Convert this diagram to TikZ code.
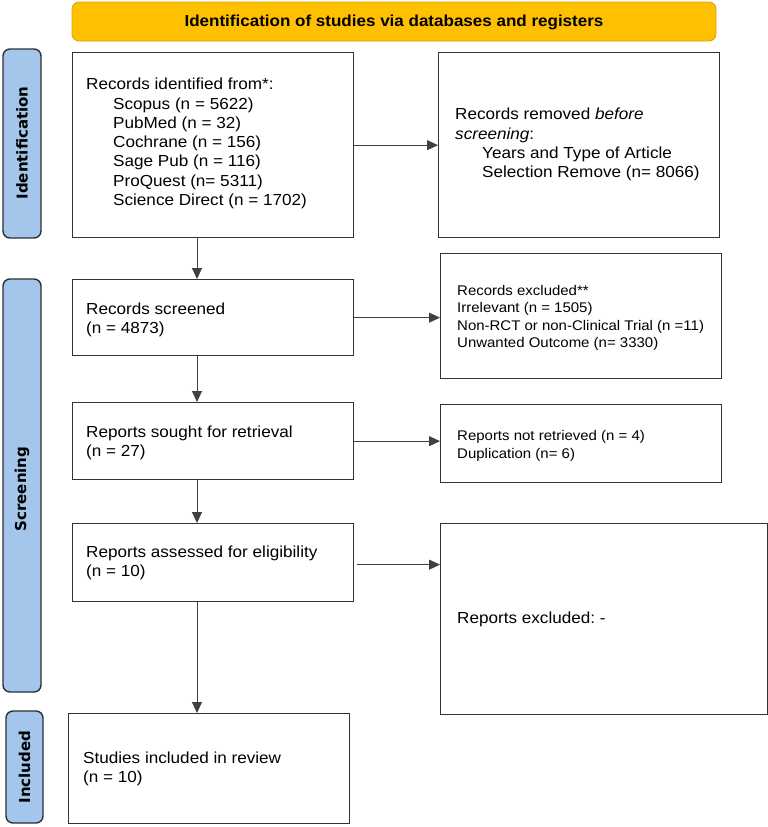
\documentclass[tikz,border=0pt]{standalone}
\usepackage{fontspec}
\setmainfont{Liberation Sans}[FakeStretch=1.07]
\newfontfamily\sidefont{DejaVu Sans}
\usetikzlibrary{arrows.meta}
\definecolor{bannerfill}{HTML}{FFC000}
\definecolor{bannerdraw}{HTML}{D9A400}
\definecolor{sidefill}{HTML}{A4C6EB}
\definecolor{sidedraw}{HTML}{2B2F38}
\definecolor{boxdraw}{HTML}{333333}
\tikzset{
  box/.style={draw=boxdraw, line width=1.3pt, fill=white},
  sidebox/.style={draw=sidedraw, line width=1.4pt, fill=sidefill, rounded corners=7pt},
  banner/.style={draw=bannerdraw, line width=0.8pt, fill=bannerfill, rounded corners=7pt},
  txt/.style={anchor=west, inner sep=0pt, font=\fontsize{16}{19.3}\selectfont, align=left},
  smalltxt/.style={anchor=west, inner sep=0pt, font=\fontsize{14}{17.5}\selectfont, align=left},
  sidetxt/.style={inner sep=0pt, rotate=90, font=\sidefont\bfseries\fontsize{15}{18}\selectfont},
  conn/.style={draw=black!75, line width=0.9pt, -{Triangle[length=11pt,width=10pt]}}
}
\begin{document}
\begin{tikzpicture}[x=1pt,y=-1pt]
\useasboundingbox (0,0) rectangle (768,827);
% banner
\path[banner] (72,2) rectangle (716,41);
\node[inner sep=0pt, font=\bfseries\fontsize{15.9}{18}\selectfont] (bt) at (394,22) {Identification of studies via databases and registers};
% side labels
\path[sidebox] (3,49) rectangle (41,238);
\node[sidetxt] (sid) at (22,143) {Identification};
\path[sidebox] (3,279) rectangle (41,692);
\node[sidetxt] (ssc) at (22,489) {Screening};
\path[sidebox] (6,711) rectangle (43,823);
\node[sidetxt] (sin) at (24.5,767) {Included};
% boxes
\node[box, minimum width=281pt, minimum height=185pt, anchor=north west] (b1) at (72,52) {};
\node[box, minimum width=281pt, minimum height=185pt, anchor=north west] (b2) at (438,52) {};
\node[box, minimum width=281pt, minimum height=76pt, anchor=north west] (b3) at (72,279) {};
\node[box, minimum width=281pt, minimum height=125pt, anchor=north west] (b4) at (440,253) {};
\node[box, minimum width=281pt, minimum height=77pt, anchor=north west] (b5) at (72,402) {};
\node[box, minimum width=281pt, minimum height=78pt, anchor=north west] (b6) at (440,404) {};
\node[box, minimum width=281pt, minimum height=78pt, anchor=north west] (b7) at (72,523) {};
\node[box, minimum width=327pt, minimum height=191pt, anchor=north west] (b8) at (440,523) {};
\node[box, minimum width=281pt, minimum height=110pt, anchor=north west] (b9) at (68,713) {};
% texts
\node[txt, anchor=north west] (t1) at (86,78) {Records identified from*:\\
\hspace{27pt}Scopus (n = 5622)\\
\hspace{27pt}PubMed (n = 32)\\
\hspace{27pt}Cochrane (n = 156)\\
\hspace{27pt}Sage Pub (n = 116)\\
\hspace{27pt}ProQuest (n= 5311)\\
\hspace{27pt}Science Direct (n = 1702)};
\node[txt, anchor=north west] (t2) at (455,108) {Records removed \textit{before}\\
\textit{screening}:\\
\hspace{27pt}Years and Type of Article\\
\hspace{27pt}Selection Remove (n= 8066)};
\node[txt] (t3) at (86,320) {Records screened\\(n = 4873)};
\node[smalltxt] (t4) at (457,318) {Records excluded**\\Irrelevant (n = 1505)\\Non-RCT or non-Clinical Trial (n =11)\\Unwanted Outcome (n= 3330)};
\node[txt] (t5) at (86,443) {Reports sought for retrieval\\(n = 27)};
\node[smalltxt] (t6) at (457,446) {Reports not retrieved (n = 4)\\Duplication (n= 6)};
\node[txt] (t7) at (86,563) {Reports assessed for eligibility\\(n = 10)};
\node[txt] (t8) at (457,619) {Reports excluded:~-};
\node[txt] (t9) at (83,769) {Studies included in review\\(n = 10)};
% connectors
\coordinate (vx) at (197,0);
\draw[conn] (b1.east) -- (b1.east -| b2.west);
\draw[conn] (b3.east) -- (b3.east -| b4.west);
\draw[conn] (b5.east) -- (b5.east -| b6.west);
\draw[conn] ([xshift=3pt,yshift=-2pt]b7.east) -- ([yshift=-2pt]b7.east -| b8.west);
\draw[conn] (vx |- b1.south) -- (vx |- b3.north);
\draw[conn] (vx |- b3.south) -- (vx |- b5.north);
\draw[conn] (vx |- b5.south) -- (vx |- b7.north);
\draw[conn] (vx |- b7.south) -- (vx |- b9.north);
\end{tikzpicture}
\end{document}
